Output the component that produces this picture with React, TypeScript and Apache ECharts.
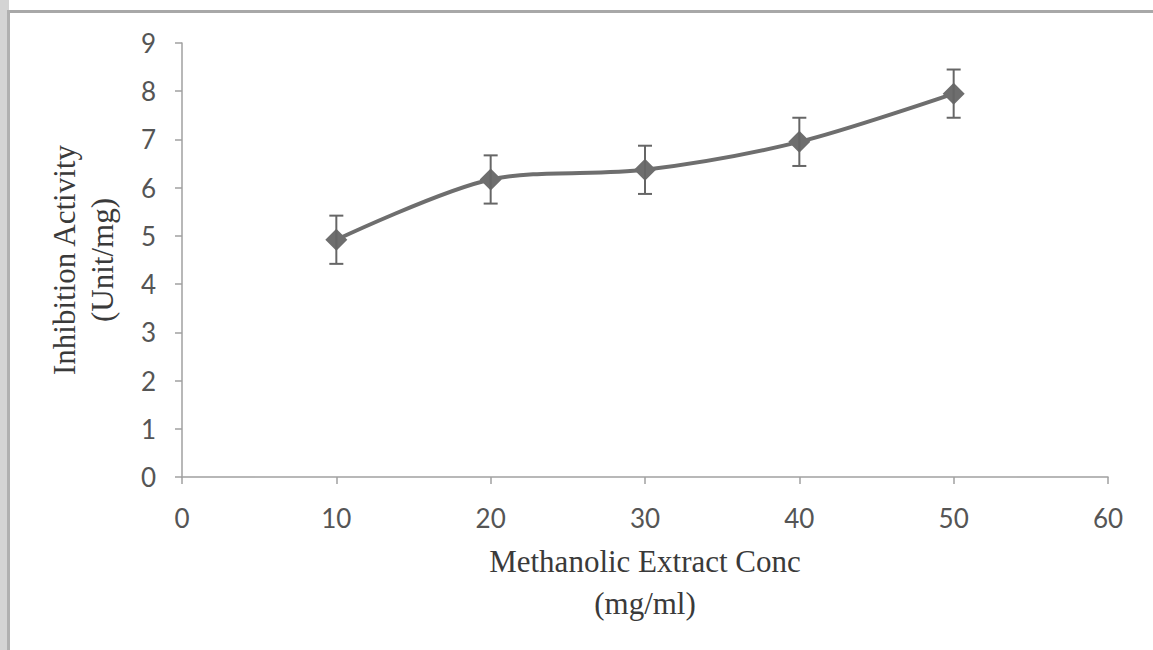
import React, { useEffect, useRef } from "react";
import * as echarts from "echarts";

const concentrations = [10, 20, 30, 40, 50];
const activity = [4.92, 6.17, 6.37, 6.95, 7.95];
const errors = [0.5, 0.5, 0.5, 0.5, 0.5];
const xTicks = { min: 0, max: 60, interval: 10 };
const yTicks = { min: 0, max: 9, interval: 1 };

export default function App() {
  const ref = useRef<HTMLDivElement>(null);
  useEffect(() => {
    if (!ref.current) return;
    const chart = echarts.init(ref.current, null, { renderer: "svg" });
    const lineData = concentrations.map((c, i) => [c, activity[i]]);
    const errData = concentrations.map((c, i) => [c, activity[i] - errors[i], activity[i] + errors[i]]);
    chart.setOption({
      animation: false,
      backgroundColor: "#ffffff",
      graphic: [
        { type: "rect", shape: { x: 0, y: 0, width: 9, height: 650 }, style: { fill: "#d4d4d4" }, z: 100 },
        { type: "rect", shape: { x: 9, y: 10, width: 1144, height: 3 }, style: { fill: "#a8a8a8" }, z: 100 },
        { type: "rect", shape: { x: 7, y: 10, width: 3, height: 640 }, style: { fill: "#b0b0b0" }, z: 100 },
      ],
      grid: { left: 182, right: 45, top: 43, bottom: 173, containLabel: false },
      xAxis: {
        type: "value",
        min: xTicks.min,
        max: xTicks.max,
        interval: xTicks.interval,
        name: "Methanolic Extract Conc\n(mg/ml)",
        nameLocation: "middle",
        nameGap: 63,
        nameTextStyle: { fontFamily: "Liberation Serif", fontSize: 31, color: "#3a3a3a", lineHeight: 42 },
        axisLine: { lineStyle: { color: "#a0a0a0", width: 1.5 } },
        axisTick: { show: true, inside: false, length: 7, lineStyle: { color: "#a0a0a0", width: 1.5 } },
        axisLabel: { fontFamily: "Lato", fontSize: 26, color: "#555555", margin: 28 },
        splitLine: { show: false },
      },
      yAxis: {
        type: "value",
        min: yTicks.min,
        max: yTicks.max,
        interval: yTicks.interval,
        name: "Inhibition Activity\n(Unit/mg)",
        nameLocation: "middle",
        nameRotate: 90,
        nameGap: 61,
        nameTextStyle: { fontFamily: "Liberation Serif", fontSize: 31, color: "#3a3a3a", lineHeight: 38 },
        axisLine: { show: true, lineStyle: { color: "#a0a0a0", width: 1.5 } },
        axisTick: { show: true, inside: false, length: 7, lineStyle: { color: "#a0a0a0", width: 1.5 } },
        axisLabel: { fontFamily: "Lato", fontSize: 26, color: "#555555", margin: 26 },
        splitLine: { show: false },
      },
      series: [
        {
          type: "line",
          data: lineData,
          smooth: 0.3,
          symbol: "diamond",
          symbolSize: 22,
          lineStyle: { color: "#6e6e6e", width: 4 },
          itemStyle: { color: "#6e6e6e" },
          z: 3,
        },
        {
          type: "custom",
          data: errData,
          z: 4,
          renderItem: (params: any, api: any) => {
            const x = api.value(0);
            const lo = api.coord([x, api.value(1)]);
            const hi = api.coord([x, api.value(2)]);
            const w = 7;
            const style = { stroke: "#666666", lineWidth: 2 };
            return {
              type: "group",
              children: [
                { type: "line", shape: { x1: lo[0], y1: lo[1], x2: hi[0], y2: hi[1] }, style },
                { type: "line", shape: { x1: lo[0] - w, y1: lo[1], x2: lo[0] + w, y2: lo[1] }, style },
                { type: "line", shape: { x1: hi[0] - w, y1: hi[1], x2: hi[0] + w, y2: hi[1] }, style },
              ],
            };
          },
        },
      ],
    });
    return () => chart.dispose();
  }, []);
  return (
    <div
      ref={ref}
      style={{ position: "absolute", left: 0, top: 0, width: 1153, height: 650 }}
    />
  );
}
